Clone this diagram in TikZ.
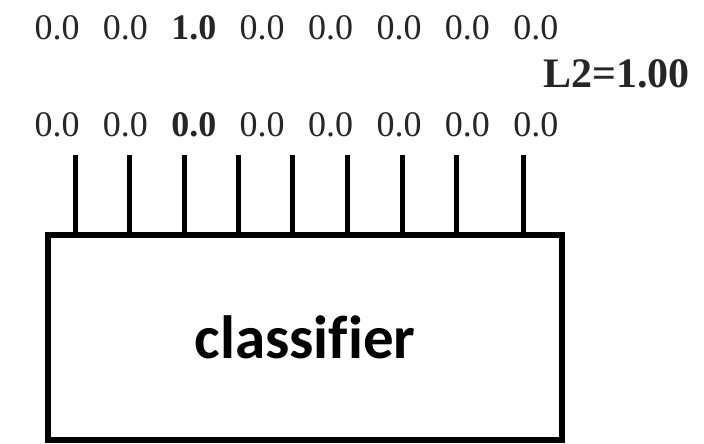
\documentclass[tikz,border=0pt]{standalone}
\usepackage{fontspec}
\setmainfont{Liberation Serif}
\newfontfamily\boxfont[Ligatures=CommonOff]{Carlito}
\usepackage{tikz}
\usetikzlibrary{positioning}

\begin{document}
\begin{tikzpicture}[
      x=1pt, y=-1pt,
      num/.style={inner sep=0pt, anchor=base, text=black!85, font=\fontsize{36}{40}\selectfont},
      hot/.style={num, font=\fontsize{36}{40}\selectfont\bfseries},
      norm/.style={inner sep=0pt, anchor=base west, text=black!85, font=\fontsize{42}{44}\selectfont\bfseries},
      model/.style={draw, line width=6pt, minimum width=514pt, minimum height=205pt, inner sep=0pt, font=\boxfont\fontsize{61}{64}\selectfont\bfseries},
      wire/.style={line width=5pt}
    ]
      \useasboundingbox (0,0) rectangle (704,444);
      % output vector
      \node[num] (t1) at (57,40) {0.0};
      \node[num, right=23pt of t1.east, anchor=west] (t2) {0.0};
      \node[hot, right=23pt of t2.east, anchor=west] (t3) {1.0};
      \node[num, right=23pt of t3.east, anchor=west] (t4) {0.0};
      \node[num, right=23pt of t4.east, anchor=west] (t5) {0.0};
      \node[num, right=23pt of t5.east, anchor=west] (t6) {0.0};
      \node[num, right=23pt of t6.east, anchor=west] (t7) {0.0};
      \node[num, right=23pt of t7.east, anchor=west] (t8) {0.0};
      \node[norm] (l2) at (543,88) {L2=1.00};
      % classifier output
      \node[num] (b1) at (57,136) {0.0};
      \node[num, right=23pt of b1.east, anchor=west] (b2) {0.0};
      \node[hot, right=23pt of b2.east, anchor=west] (b3) {0.0};
      \node[num, right=23pt of b3.east, anchor=west] (b4) {0.0};
      \node[num, right=23pt of b4.east, anchor=west] (b5) {0.0};
      \node[num, right=23pt of b5.east, anchor=west] (b6) {0.0};
      \node[num, right=23pt of b6.east, anchor=west] (b7) {0.0};
      \node[num, right=23pt of b7.east, anchor=west] (b8) {0.0};
      % model
      \node[model] (clf) at (305,337.5) {classif\kern0pt ier};
      \coordinate (p1) at (75,155);
      \coordinate (p2) at (129,155);
      \coordinate (p3) at (184,155);
      \coordinate (p4) at (238,155);
      \coordinate (p5) at (292,155);
      \coordinate (p6) at (347,155);
      \coordinate (p7) at (402,155);
      \coordinate (p8) at (456,155);
      \coordinate (p9) at (523,155);
      \draw[wire] (p1) -- (p1 |- clf.north);
      \draw[wire] (p2) -- (p2 |- clf.north);
      \draw[wire] (p3) -- (p3 |- clf.north);
      \draw[wire] (p4) -- (p4 |- clf.north);
      \draw[wire] (p5) -- (p5 |- clf.north);
      \draw[wire] (p6) -- (p6 |- clf.north);
      \draw[wire] (p7) -- (p7 |- clf.north);
      \draw[wire] (p8) -- (p8 |- clf.north);
      \draw[wire] (p9) -- (p9 |- clf.north);
    \end{tikzpicture}
\end{document}
